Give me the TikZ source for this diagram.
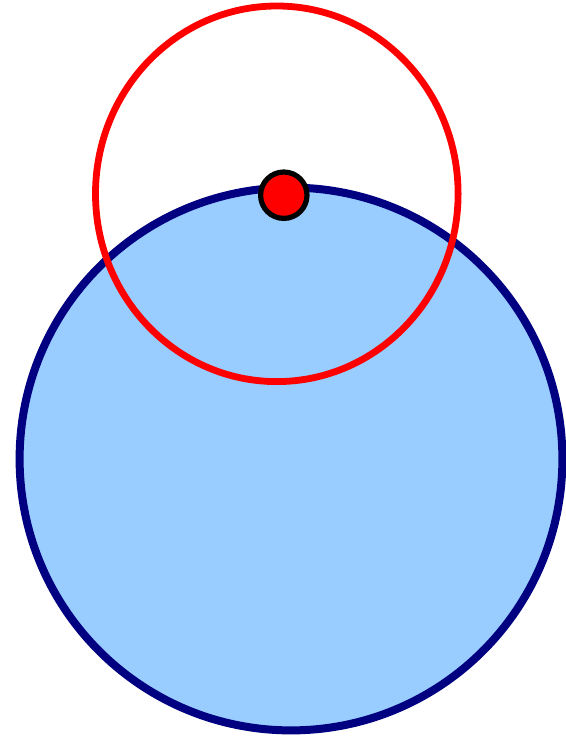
\documentclass[tikz,border=0pt]{standalone}
\definecolor{bigfill}{HTML}{99CCFF}
\definecolor{bigline}{HTML}{000080}
\definecolor{redline}{HTML}{FF0000}
\tikzset{
  bigcircle/.style={draw=bigline, fill=bigfill, line width=8pt},
  redring/.style={draw=redline, line width=6.8pt},
  dotstyle/.style={draw=black, fill=redline, line width=5.2pt}
}
\begin{document}
\begin{tikzpicture}[x=1pt,y=-1pt]
\useasboundingbox (0,0) rectangle (565,738);
\path[bigcircle] (291,459) circle [radius=271.4];
\path[redring] (276.8,193.8) ellipse [x radius=181.3, y radius=187.8];
\path[dotstyle] (283.8,195.2) circle [radius=23.2];
\end{tikzpicture}
\end{document}
